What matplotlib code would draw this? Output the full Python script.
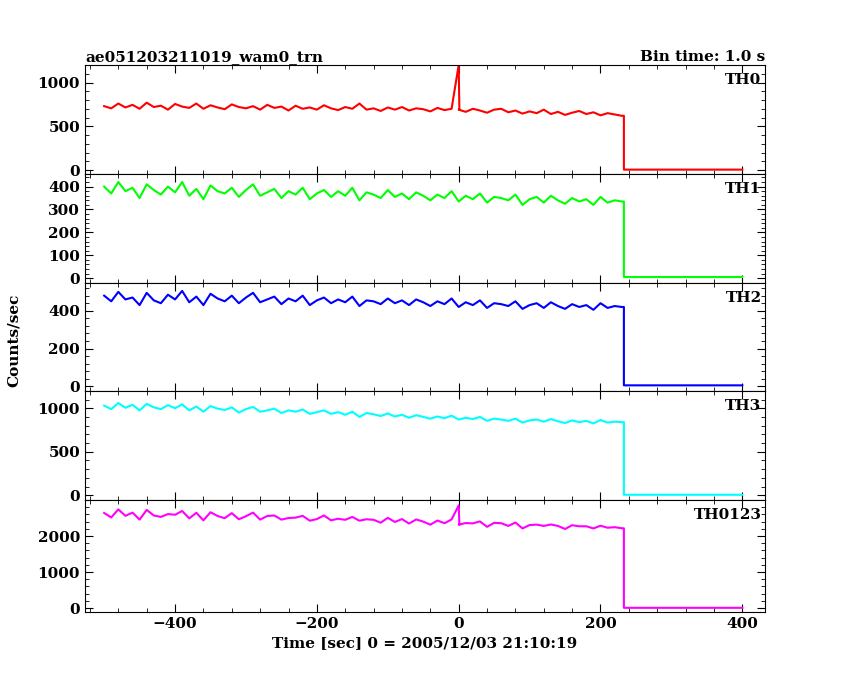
import numpy as np
import matplotlib
matplotlib.use("Agg")
import matplotlib.pyplot as plt
from matplotlib.ticker import AutoMinorLocator

plt.rcParams['font.family'] = ['DejaVu Serif']
plt.rcParams['font.weight'] = 'bold'
plt.rcParams['axes.titleweight'] = 'bold'
plt.rcParams['axes.labelweight'] = 'bold'

bin_start = -500
bin_width = 10
th0 = [730,705,760,715,745,700,770,720,735,690,755,725,710,760,700,740,715,695,750,720,
       705,730,690,745,710,725,680,735,700,715,690,740,705,685,720,700,760,690,705,675,
       715,690,720,680,705,695,670,710,685,700,690,665,700,680,655,690,700,660,680,645,
       670,650,690,640,665,630,655,675,640,660,625,650,635,620]
th1 = [400,370,420,380,395,350,410,385,365,400,375,420,360,390,345,405,380,370,395,355,
       385,410,360,375,390,350,380,365,395,345,370,385,355,380,360,395,340,375,365,350,
       385,355,370,345,375,360,340,365,350,380,335,360,345,370,330,355,350,340,365,320,
       345,355,330,360,340,325,350,335,345,320,355,330,340,335]
th2 = [480,450,500,460,470,430,495,455,440,485,460,505,445,475,430,490,465,450,480,440,
       470,495,445,460,475,435,465,450,480,430,455,470,440,460,445,475,425,455,450,435,
       465,440,455,430,460,445,425,450,435,465,420,445,430,455,415,440,435,425,450,410,
       430,440,415,445,425,410,435,420,430,405,440,415,425,420]
th3 = [1030,990,1060,1005,1040,975,1050,1010,990,1035,1000,1045,975,1020,960,1025,995,980,1010,950,
       990,1015,960,975,995,945,975,960,985,935,955,975,935,955,925,960,900,945,930,910,
       940,905,925,890,920,900,880,905,885,915,870,890,875,900,855,880,870,855,880,835,
       860,870,845,875,850,830,860,840,855,825,865,835,845,840]
spike_time = 0
spike_th0 = 1200
spike_th0123 = 2850
off_time = [233, 400]
off_level = [5, 5]
labels = ["TH0", "TH1", "TH2", "TH3", "TH0123"]
colors = ["#ff0000", "#00ff00", "#0000ff", "#00ffff", "#ff00ff"]
ylims = [(-45, 1200), (-21, 455), (-25, 547), (-55, 1198), (-111, 3000)]
yticks = [[0, 500, 1000], [0, 100, 200, 300, 400], [0, 200, 400], [0, 500, 1000], [0, 1000, 2000]]

n = min(len(th0), len(th1), len(th2), len(th3))
arrs = [np.array(a[:n], float) for a in (th0, th1, th2, th3)]
arrs.append(sum(arrs))
t = bin_start + bin_width * np.arange(n)

fig = plt.figure(figsize=(8.5, 6.8), dpi=100)
H = 680.
edges = [65, 174, 283, 391, 500, 612]
for i in range(5):
    y0 = 1 - edges[i+1]/H
    h = (edges[i+1]-edges[i])/H
    ax = fig.add_axes([85/850, y0, 680/850, h])
    y = arrs[i]
    tt = list(t); yy = list(y)
    if i == 0 or i == 4:
        k = int(np.searchsorted(t, spike_time))
        sv = spike_th0 if i == 0 else spike_th0123
        tt = tt[:k] + [spike_time, spike_time + 1] + tt[k:]
        yy = yy[:k] + [sv, y[k]] + yy[k:]
    tt2 = tt + [off_time[0], off_time[0], off_time[1]]
    yy2 = yy + [yy[-1], off_level[0], off_level[1]]
    ax.plot(tt2, yy2, color=colors[i], lw=1.5)
    ax.set_xlim(-527, 432)
    ax.set_ylim(*ylims[i])
    ax.set_yticks(yticks[i])
    ax.xaxis.set_minor_locator(AutoMinorLocator(5))
    ax.yaxis.set_minor_locator(AutoMinorLocator(5))
    ax.tick_params(which='both', direction='in', top=True, right=True, labelsize=11)
    ax.tick_params(which='major', length=6)
    ax.tick_params(which='minor', length=3)
    ax.text(0.995, 0.93, labels[i], transform=ax.transAxes, ha='right', va='top', fontsize=11)
    if i < 4:
        ax.set_xticklabels([])
    else:
        ax.set_xticks([-400, -200, 0, 200, 400])
        ax.set_xlabel("Time [sec] 0 = 2005/12/03 21:10:19", fontsize=11)
    if i == 0:
        ax.set_title("ae051203211019_wam0_trn", loc='left', fontsize=11, pad=3)
        ax.set_title("Bin time: 1.0 s", loc='right', fontsize=11, pad=3)
fig.text(14/850, 0.5, "Counts/sec", rotation=90, va='center', ha='center', fontsize=11)
fig.savefig("out.png", dpi=100)
